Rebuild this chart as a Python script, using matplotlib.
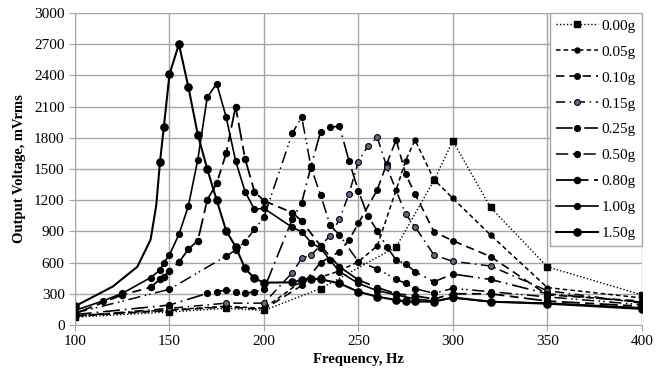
import matplotlib
matplotlib.use('Agg')
import matplotlib.pyplot as plt

plt.rcParams['font.family'] = ['Liberation Serif', 'DejaVu Serif']

# frequency (Hz) / output voltage (mVrms) for each excitation level
f000 = [100, 150, 180, 200, 230, 270, 290, 300, 320, 350, 400]
v000 = [75, 125, 160, 140, 350, 750, 1390, 1770, 1130, 560, 290]

f005 = [100, 150, 180, 200, 220, 230, 240, 250, 260, 270, 275, 280, 290, 300, 320, 350, 400]
v005 = [90, 145, 180, 160, 420, 460, 520, 609, 760, 1298, 1580, 1780, 1400, 1218, 865, 360, 260]

f010 = [100, 150, 180, 200, 220, 230, 240, 245, 250, 260, 265, 270, 275, 280, 290, 300, 320, 350, 400]
v010 = [85, 140, 175, 150, 380, 600, 705, 817, 977, 1300, 1550, 1780, 1452, 1260, 897, 810, 658, 290, 230]

f015 = [100, 150, 180, 200, 215, 220, 225, 235, 240, 245, 250, 255, 260, 265, 275, 280, 290, 300, 320, 350, 400]
v015 = [85, 160, 210, 210, 503, 641, 673, 856, 1016, 1260, 1571, 1721, 1805, 1522, 1067, 945, 673, 612, 567, 330, 210]

f025 = [100, 150, 170, 175, 180, 185, 190, 195, 200, 215, 220, 225, 230, 235, 240, 245, 250,
        255, 260, 265, 270, 275, 280, 290, 300, 320, 350, 400]
v025 = [100, 192, 304, 320, 336, 320, 304, 320, 343, 1016, 1176, 1530, 1859, 1901, 1913, 1580, 1291,
        1048, 907, 753, 625, 587, 513, 416, 490, 438, 300, 220]

f050 = [100, 150, 180, 185, 190, 195, 200, 215, 220, 225, 230, 235, 240, 250, 260, 270, 275,
        280, 290, 300, 320, 350, 400]
v050 = [115, 343, 663, 720, 801, 919, 1035, 1843, 2000, 1510, 1250, 962, 865, 609, 540, 440, 400,
        350, 304, 352, 320, 270, 195]

f080 = [100, 125, 140, 145, 147, 150, 155, 160, 165, 170, 175, 180, 185, 190, 195, 200, 215, 220,
        230, 240, 250, 260, 270, 280, 290, 300, 320, 350, 400]
v080 = [110, 290, 362, 440, 465, 522, 603, 728, 811, 1202, 1362, 1650, 2100, 1600, 1282, 1195, 1080, 1000,
        760, 560, 433, 360, 300, 280, 250, 300, 300, 230, 180]

f100 = [100, 115, 125, 140, 145, 147, 150, 155, 160, 165, 170, 175, 180, 185, 190, 195, 200, 215,
        220, 225, 230, 235, 240, 250, 260, 270, 280, 290, 300, 320, 350, 400]
v100 = [140, 233, 304, 455, 529, 599, 673, 871, 1144, 1590, 2190, 2320, 2000, 1580, 1282, 1112, 1122, 939,
        897, 792, 737, 625, 513, 400, 330, 290, 250, 230, 260, 224, 210, 165]

# first points of 1.50g (120-143 Hz) carry no marker in the original
f150 = [100, 120, 133, 140, 143, 145, 147, 150, 155, 160, 165, 170, 175, 180, 185, 190, 195, 200, 215,
        220, 225, 230, 240, 250, 260, 270, 275, 280, 290, 300, 320, 350, 400]
v150 = [180, 370, 560, 820, 1150, 1570, 1900, 2410, 2700, 2290, 1830, 1500, 1200, 907, 753, 545, 449, 407, 410,
        433, 445, 440, 400, 320, 272, 240, 226, 226, 224, 265, 224, 205, 155]

labels = ['0.00g', '0.05g', '0.10g', '0.15g', '0.25g', '0.50g', '0.80g', '1.00g', '1.50g']

fig = plt.figure(figsize=(6.65, 3.79), dpi=100)
ax = fig.add_axes([0.1128, 0.1425, 0.8522, 0.8232])

ax.plot(f000, v000, color='black', lw=1.0, ls=(0, (1, 1.5)), marker='s', ms=4.2, label=labels[0])
ax.plot(f005, v005, color='black', lw=1.1, ls=(0, (3, 2)), marker='o', ms=3.6, label=labels[1])
ax.plot(f010, v010, color='black', lw=1.2, ls=(0, (5, 3)), marker='o', ms=4, label=labels[2])
ax.plot(f015, v015, color='black', lw=1.1, ls=(0, (6, 3, 1, 3)), marker='o', ms=4.2,
        mfc='#7a5c92', mec='black', mew=0.8, label=labels[3])
ax.plot(f025, v025, color='black', lw=1.2, ls=(0, (10, 3, 1, 3)), marker='o', ms=4.2, label=labels[4])
ax.plot(f050, v050, color='black', lw=1.1, ls=(0, (8, 3, 1, 2, 1, 3)), marker='o', ms=4.2, label=labels[5])
ax.plot(f080, v080, color='black', lw=1.3, ls=(0, (10, 3, 5, 3)), marker='o', ms=4.4, label=labels[6])
ax.plot(f100, v100, color='black', lw=1.2, ls='-', marker='o', ms=4.2, label=labels[7])
ax.plot(f150, v150, color='black', lw=1.5, ls='-', marker='o', ms=5.2,
        markevery=[0] + list(range(5, len(f150))), label=labels[8])

ax.set_xlim(100, 400)
ax.set_ylim(0, 3000)
ax.set_xticks(range(100, 401, 50))
ax.set_yticks(range(0, 3001, 300))
ax.grid(True, color='#a6a6a6', lw=1.0)
ax.set_axisbelow(True)
for s in ['top', 'right']:
    ax.spines[s].set_visible(False)
for s in ['left', 'bottom']:
    ax.spines[s].set_color('#a6a6a6')
ax.tick_params(axis='both', labelsize=11, colors='#a6a6a6', labelcolor='black', length=4)

ax.set_xlabel('Frequency, Hz', fontsize=10.5, fontweight='bold', labelpad=3)
ax.set_ylabel('Output Voltage, mVrms', fontsize=10.5, fontweight='bold', labelpad=6)

leg = ax.legend(loc='upper right', bbox_to_anchor=(1.0, 1.0), borderaxespad=0,
                fontsize=11, frameon=True, fancybox=False, handlelength=2.8,
                labelspacing=0.8, borderpad=0.4, handletextpad=0.2)
leg.get_frame().set_edgecolor('#a6a6a6')
leg.get_frame().set_linewidth(1.0)
leg.get_frame().set_alpha(1.0)

fig.savefig('out.png', dpi=100)
